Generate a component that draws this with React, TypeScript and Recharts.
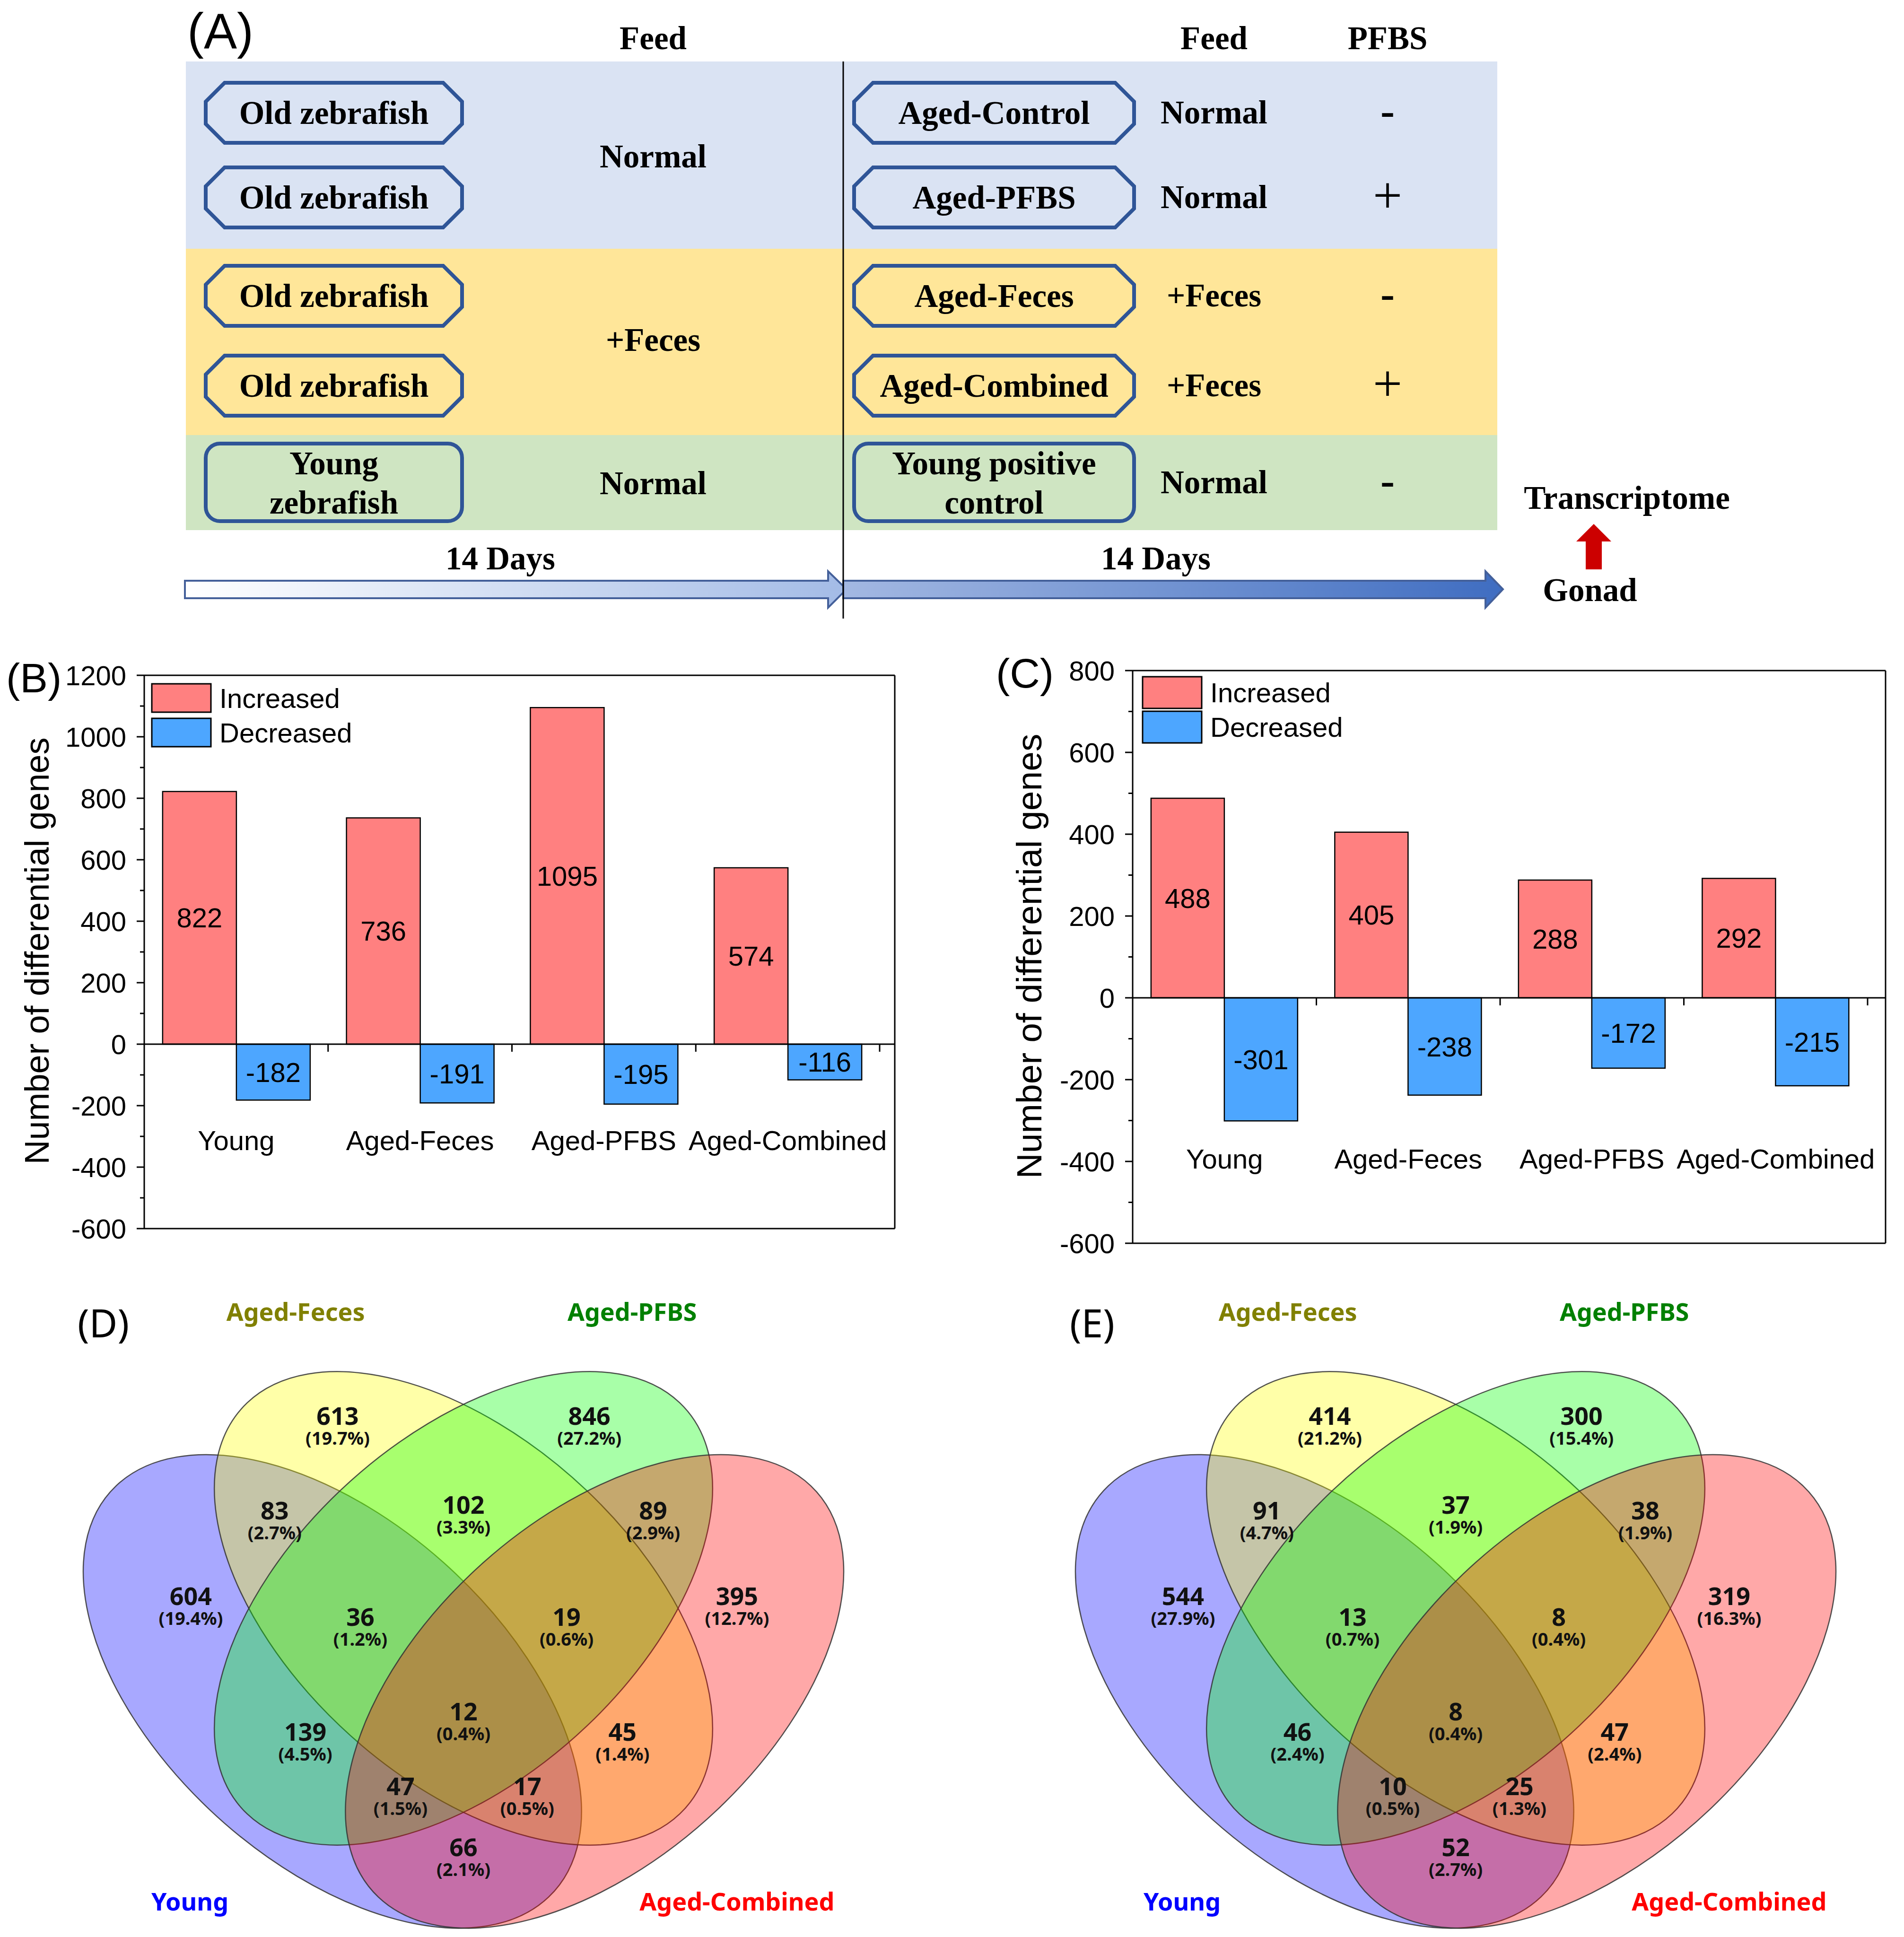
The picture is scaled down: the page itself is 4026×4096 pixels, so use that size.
import React from "react";
import {
  BarChart, Bar, XAxis, YAxis, ReferenceLine, LabelList,
  ScatterChart, Scatter,
} from "recharts";

// ---- data ----
const categories = ["Young", "Aged-Feces", "Aged-PFBS", "Aged-Combined"];
const increasedB = [822, 736, 1095, 574];
const decreasedB = [-182, -191, -195, -116];
const increasedC = [488, 405, 288, 292];
const decreasedC = [-301, -238, -172, -215];
const ticksB = [-600, -500, -400, -300, -200, -100, 0, 100, 200, 300, 400, 500, 600, 700, 800, 900, 1000, 1100, 1200];
const ticksC = [-600, -500, -400, -300, -200, -100, 0, 100, 200, 300, 400, 500, 600, 700, 800];

// venn regions: Y, F, P, C, YF, FP, PC, YFP, FPC, YP, YFPC, FC, YPC, YFC, YC
const vennSets = ["Young", "Aged-Feces", "Aged-PFBS", "Aged-Combined"];
const vennCountsD = [604, 613, 846, 395, 83, 102, 89, 36, 19, 139, 12, 45, 47, 17, 66];
const vennPctD = [19.4, 19.7, 27.2, 12.7, 2.7, 3.3, 2.9, 1.2, 0.6, 4.5, 0.4, 1.4, 1.5, 0.5, 2.1];
const vennCountsE = [544, 414, 300, 319, 91, 37, 38, 13, 8, 46, 8, 47, 10, 25, 52];
const vennPctE = [27.9, 21.2, 15.4, 16.3, 4.7, 1.9, 1.9, 0.7, 0.4, 2.4, 0.4, 2.4, 0.5, 1.3, 2.7];

// ---- layout / style ----
const SANS = "'Liberation Sans', Arial, Helvetica, sans-serif";
const SERIF = "'Liberation Serif', 'Times New Roman', serif";
const VFONT = "'Noto Sans', 'Open Sans', 'DejaVu Sans', sans-serif";
const RED = "#FF8080";
const BLUE = "#4DA6FF";

const regionAnchors = [
  [0.188, 0.571], [0.356, 0.788], [0.644, 0.788], [0.813, 0.571],
  [0.284, 0.674], [0.5, 0.681], [0.717, 0.674],
  [0.382, 0.546], [0.618, 0.546], [0.319, 0.408], [0.5, 0.432], [0.682, 0.408],
  [0.428, 0.342], [0.573, 0.342], [0.5, 0.269],
];
const setAnchors = [[0.187, 0.218], [0.308, 0.928], [0.693, 0.928], [0.813, 0.218]];
const setColors = ["#0000FF", "#808000", "#008000", "#FF0000"];
const ellipses = [
  { u: 0.35, v: 0.47, rot: 45, color: "#0000FF" },
  { u: 0.5, v: 0.57, rot: 45, color: "#FFFF00" },
  { u: 0.5, v: 0.57, rot: -45, color: "#00FF00" },
  { u: 0.65, v: 0.47, rot: -45, color: "#FF0000" },
];
const VW = 1848, VH = 1405, VSY = VH / 0.8;

function DegChart({ left, top, width, height, plot, inc, dec, ticks, domain, padRight, labelLift }: any) {
  const data = categories.map((cat, i) => ({ cat, inc: inc[i], dec: dec[i] }));
  const YW = 100;
  const band = (plot.w - padRight) / categories.length;
  const zeroDrop = (plot.h * (0 - domain[0])) / (domain[1] - domain[0]);

  const yTick = ({ x, y, payload }: any) => {
    const major = payload.value % 200 === 0;
    return (
      <g>
        <line x1={x} x2={x - (major ? 16 : 9)} y1={y} y2={y} stroke="#000" strokeWidth={3} />
        {major && (
          <text x={x - 38} y={y} textAnchor="end" dominantBaseline="central"
            fontSize={58} fontFamily={SANS} fill="#000">{payload.value}</text>
        )}
      </g>
    );
  };
  const xTick = ({ x, y, payload }: any) => (
    <g>
      <line x1={x + band / 2} x2={x + band / 2} y1={y - zeroDrop} y2={y - zeroDrop + 16} stroke="#000" strokeWidth={3} />
      <text x={x} y={y - labelLift} textAnchor="middle" dominantBaseline="central"
        fontSize={58} fontFamily={SANS} fill="#000">{payload.value}</text>
    </g>
  );

  return (
    <div style={{ position: "absolute", left, top }}>
      <BarChart
        width={width} height={height} data={data}
        barCategoryGap="10%" barGap={0}
        margin={{
          top: plot.y - 1, left: plot.x - YW,
          right: width - plot.x - plot.w - 1, bottom: height - plot.y - plot.h - 1,
        }}
      >
        <XAxis dataKey="cat" interval={0} tickSize={0} tickMargin={0} tick={xTick} tickLine={false}
          axisLine={{ stroke: "#000", strokeWidth: 3 }} height={1} padding={{ left: 0, right: padRight }} />
        <XAxis xAxisId="top" orientation="top" dataKey="cat" tick={false} tickLine={false}
          axisLine={{ stroke: "#000", strokeWidth: 3 }} height={1} />
        <YAxis domain={domain} ticks={ticks} interval={0} tickSize={0} tickMargin={0} tick={yTick}
          tickLine={false} axisLine={{ stroke: "#000", strokeWidth: 3 }} width={YW} allowDataOverflow />
        <YAxis yAxisId="right" orientation="right" domain={domain} tick={false} tickLine={false}
          axisLine={{ stroke: "#000", strokeWidth: 3 }} width={1} allowDataOverflow />
        <Bar dataKey="inc" fill={RED} stroke="#000" strokeWidth={2.5} isAnimationActive={false}>
          <LabelList dataKey="inc" position="center" fill="#000" fontSize={58} fontFamily={SANS} />
        </Bar>
        <Bar dataKey="dec" fill={BLUE} stroke="#000" strokeWidth={2.5} isAnimationActive={false}>
          <LabelList dataKey="dec" position="center" fill="#000" fontSize={58} fontFamily={SANS} />
        </Bar>
        <ReferenceLine y={0} stroke="#000" strokeWidth={3} />
      </BarChart>
    </div>
  );
}

const EllipseShape = (p: any) => {
  const d = p.payload;
  return (
    <g transform={`translate(${p.cx},${p.cy}) scale(${VW},${VSY}) rotate(${d.rot})`}>
      <ellipse cx={0} cy={0} rx={0.35} ry={0.2} fill={d.color} fillOpacity={0.34}
        stroke="#333" strokeOpacity={0.85} strokeWidth={2.5} vectorEffect="non-scaling-stroke" />
    </g>
  );
};
// count and percentage as one two-line text
const RegionLabel = (p: any) => {
  const d = p.payload;
  return (
    <text fontFamily={VFONT} fontWeight="bold" fill="#111" textAnchor="middle">
      <tspan x={p.cx} y={p.cy - 5} fontSize={52}>{d.n}</tspan>
      <tspan x={p.cx} y={p.cy + 37} fontSize={38}>{`(${d.p.toFixed(1)}%)`}</tspan>
    </text>
  );
};
const SetLabel = (p: any) => {
  const d = p.payload;
  return (
    <text x={p.cx} y={p.cy} textAnchor="middle" dominantBaseline="central" fontFamily={VFONT}
      fontWeight="bold" fontSize={52} fill={d.color}>{d.name}</text>
  );
};

function VennPanel({ left, counts, pcts }: any) {
  const regions = regionAnchors.map((a, i) => ({ u: a[0], v: a[1], n: counts[i], p: pcts[i] }));
  const sets = vennSets.map((name, i) => ({ u: setAnchors[i][0], v: setAnchors[i][1], name, color: setColors[i] }));
  return (
    <div style={{ position: "absolute", left, top: 2681 }}>
      <ScatterChart width={VW} height={VH} margin={{ top: 0, right: 0, bottom: 0, left: 0 }}>
        <XAxis type="number" dataKey="u" domain={[0, 1]} hide allowDataOverflow />
        <YAxis type="number" dataKey="v" domain={[0.18, 0.98]} hide allowDataOverflow />
        <Scatter data={ellipses} shape={EllipseShape} isAnimationActive={false} />
        <Scatter data={regions} shape={RegionLabel} isAnimationActive={false} />
        <Scatter data={sets} shape={SetLabel} isAnimationActive={false} />
      </ScatterChart>
    </div>
  );
}

const octagon = (x: number, y: number, w: number, h: number, c: number) =>
  `M${x + c},${y} L${x + w - c},${y} L${x + w},${y + c} L${x + w},${y + h - c} L${x + w - c},${y + h} L${x + c},${y + h} L${x},${y + h - c} L${x},${y + c} Z`;

function PanelA() {
  const rows = [175, 354, 562, 752];
  const H = 127;
  const leftNames = ["Old zebrafish", "Old zebrafish", "Old zebrafish", "Old zebrafish"];
  const rightNames = ["Aged-Control", "Aged-PFBS", "Aged-Feces", "Aged-Combined"];
  const centers = [238, 417, 625, 815, 1020];
  const feeds = ["Normal", "Normal", "+Feces", "+Feces", "Normal"];
  const pfbs = ["-", "+", "-", "+", "-"];
  const T = { fontFamily: SERIF, fontWeight: "bold" as const, fontSize: 69, fill: "#000" };
  return (
    <svg width={4026} height={1330} style={{ position: "absolute", left: 0, top: 0 }}>
      <defs>
        <linearGradient id="arr1" x1="0" x2="1" y1="0" y2="0">
          <stop offset="0" stopColor="#FFFFFF" />
          <stop offset="1" stopColor="#A3BBE6" />
        </linearGradient>
        <linearGradient id="arr2" x1="0" x2="1" y1="0" y2="0">
          <stop offset="0" stopColor="#A3B8E2" />
          <stop offset="1" stopColor="#3F6DC1" />
        </linearGradient>
      </defs>
      <rect x={393} y={130} width={2773} height={396} fill="#DAE3F3" />
      <rect x={393} y={526} width={2773} height={394} fill="#FFE699" />
      <rect x={393} y={920} width={2773} height={201} fill="#CFE5C2" />
      <g textAnchor="middle" dominantBaseline="central" {...T}>
        <text x={1381} y={81}>Feed</text>
        <text x={2567} y={81}>Feed</text>
        <text x={2934} y={81}>PFBS</text>
        <text x={1381} y={331}>Normal</text>
        <text x={1381} y={719}>+Feces</text>
        <text x={1381} y={1022}>Normal</text>
        {centers.map((c, i) => <text key={"f" + i} x={2567} y={c}>{feeds[i]}</text>)}
        {pfbs.map((s, i) => (
          <text key={"p" + i} x={2934} y={centers[i] - 4} fontWeight={s === "+" ? "normal" : "bold"}
            fontSize={s === "+" ? 110 : 90}>{s}</text>
        ))}
        <text x={1058} y={1181}>14 Days</text>
        <text x={2444} y={1181}>14 Days</text>
        <text x={3440} y={1053}>Transcriptome</text>
        <text x={3362} y={1248}>Gonad</text>
      </g>
      {rows.map((y, i) => (
        <g key={"r" + i}>
          <path d={octagon(435, y, 542, H, 40)} fill="none" stroke="#2F5597" strokeWidth={8} />
          <path d={octagon(1806, y, 592, H, 40)} fill="none" stroke="#2F5597" strokeWidth={8} />
          <text x={706} y={y + H / 2} textAnchor="middle" dominantBaseline="central" {...T}>{leftNames[i]}</text>
          <text x={2102} y={y + H / 2} textAnchor="middle" dominantBaseline="central" {...T}>{rightNames[i]}</text>
        </g>
      ))}
      <rect x={435} y={938} width={542} height={164} rx={30} fill="none" stroke="#2F5597" strokeWidth={8} />
      <rect x={1806} y={938} width={592} height={164} rx={30} fill="none" stroke="#2F5597" strokeWidth={8} />
      <g textAnchor="middle" dominantBaseline="central" {...T}>
        <text x={706} y={980}>Young</text>
        <text x={706} y={1063}>zebrafish</text>
        <text x={2102} y={980}>Young positive</text>
        <text x={2102} y={1063}>control</text>
      </g>
      <polygon points="391,1228 1751,1228 1751,1208 1790,1246 1751,1285 1751,1265 391,1265"
        fill="url(#arr1)" stroke="#44609A" strokeWidth={4} />
      <polygon points="1783,1228 3141,1228 3141,1208 3178,1246 3141,1285 3141,1265 1783,1265"
        fill="url(#arr2)" stroke="#44609A" strokeWidth={4} />
      <line x1={1783} x2={1783} y1={130} y2={1308} stroke="#000" strokeWidth={3} />
      <polygon points="3370,1108 3407,1145 3387,1145 3387,1204 3353,1204 3353,1145 3333,1145" fill="#CC0000" />
      <text x={396} y={65} dominantBaseline="central" fontFamily={SANS} fontSize={105}>(A)</text>
    </svg>
  );
}

function Overlay() {
  const L = { fontFamily: SANS, fontSize: 58, fill: "#000", dominantBaseline: "central" as const };
  return (
    <svg width={4026} height={4096} style={{ position: "absolute", left: 0, top: 0, pointerEvents: "none" }}>
      <text x={13} y={1433} dominantBaseline="central" fontFamily={SANS} fontSize={88}>(B)</text>
      <text x={2106} y={1423} dominantBaseline="central" fontFamily={SANS} fontSize={88}>(C)</text>
      <text x={164} y={2796} dominantBaseline="central" fontFamily={VFONT} fontSize={82}>(D)</text>
      <text x={2262} y={2796} dominantBaseline="central" fontFamily={VFONT} fontSize={82}>(E)</text>
      <text transform="translate(78,2011) rotate(-90)" textAnchor="middle" dominantBaseline="central"
        fontFamily={SANS} fontSize={72}>Number of differential genes</text>
      <text transform="translate(2176,2022) rotate(-90)" textAnchor="middle" dominantBaseline="central"
        fontFamily={SANS} fontSize={75}>Number of differential genes</text>
      <rect x={321} y={1446} width={125} height={60} fill={RED} stroke="#000" strokeWidth={3} />
      <rect x={321} y={1519} width={125} height={60} fill={BLUE} stroke="#000" strokeWidth={3} />
      <text x={464} y={1476} {...L}>Increased</text>
      <text x={464} y={1549} {...L}>Decreased</text>
      <rect x={2416} y={1431} width={125} height={67} fill={RED} stroke="#000" strokeWidth={3} />
      <rect x={2416} y={1504} width={125} height={67} fill={BLUE} stroke="#000" strokeWidth={3} />
      <text x={2559} y={1464} {...L}>Increased</text>
      <text x={2559} y={1537} {...L}>Decreased</text>
    </svg>
  );
}

export default function App() {
  return (
    <div style={{ position: "absolute", left: 0, top: 0, width: 4026, height: 4096, background: "#fff", overflow: "hidden" }}>
      <PanelA />
      <DegChart left={0} top={1300} width={2000} height={1400}
        plot={{ x: 305, y: 128, w: 1587, h: 1170 }}
        inc={increasedB} dec={decreasedB} ticks={ticksB} domain={[-600, 1200]}
        padRight={32} labelLift={187} />
      <DegChart left={2050} top={1300} width={1976} height={1400}
        plot={{ x: 345, y: 118, w: 1592, h: 1211 }}
        inc={increasedC} dec={decreasedC} ticks={ticksC} domain={[-600, 800]}
        padRight={38} labelLift={179} />
      <VennPanel left={56} counts={vennCountsD} pcts={vennPctD} />
      <VennPanel left={2154} counts={vennCountsE} pcts={vennPctE} />
      <Overlay />
    </div>
  );
}
